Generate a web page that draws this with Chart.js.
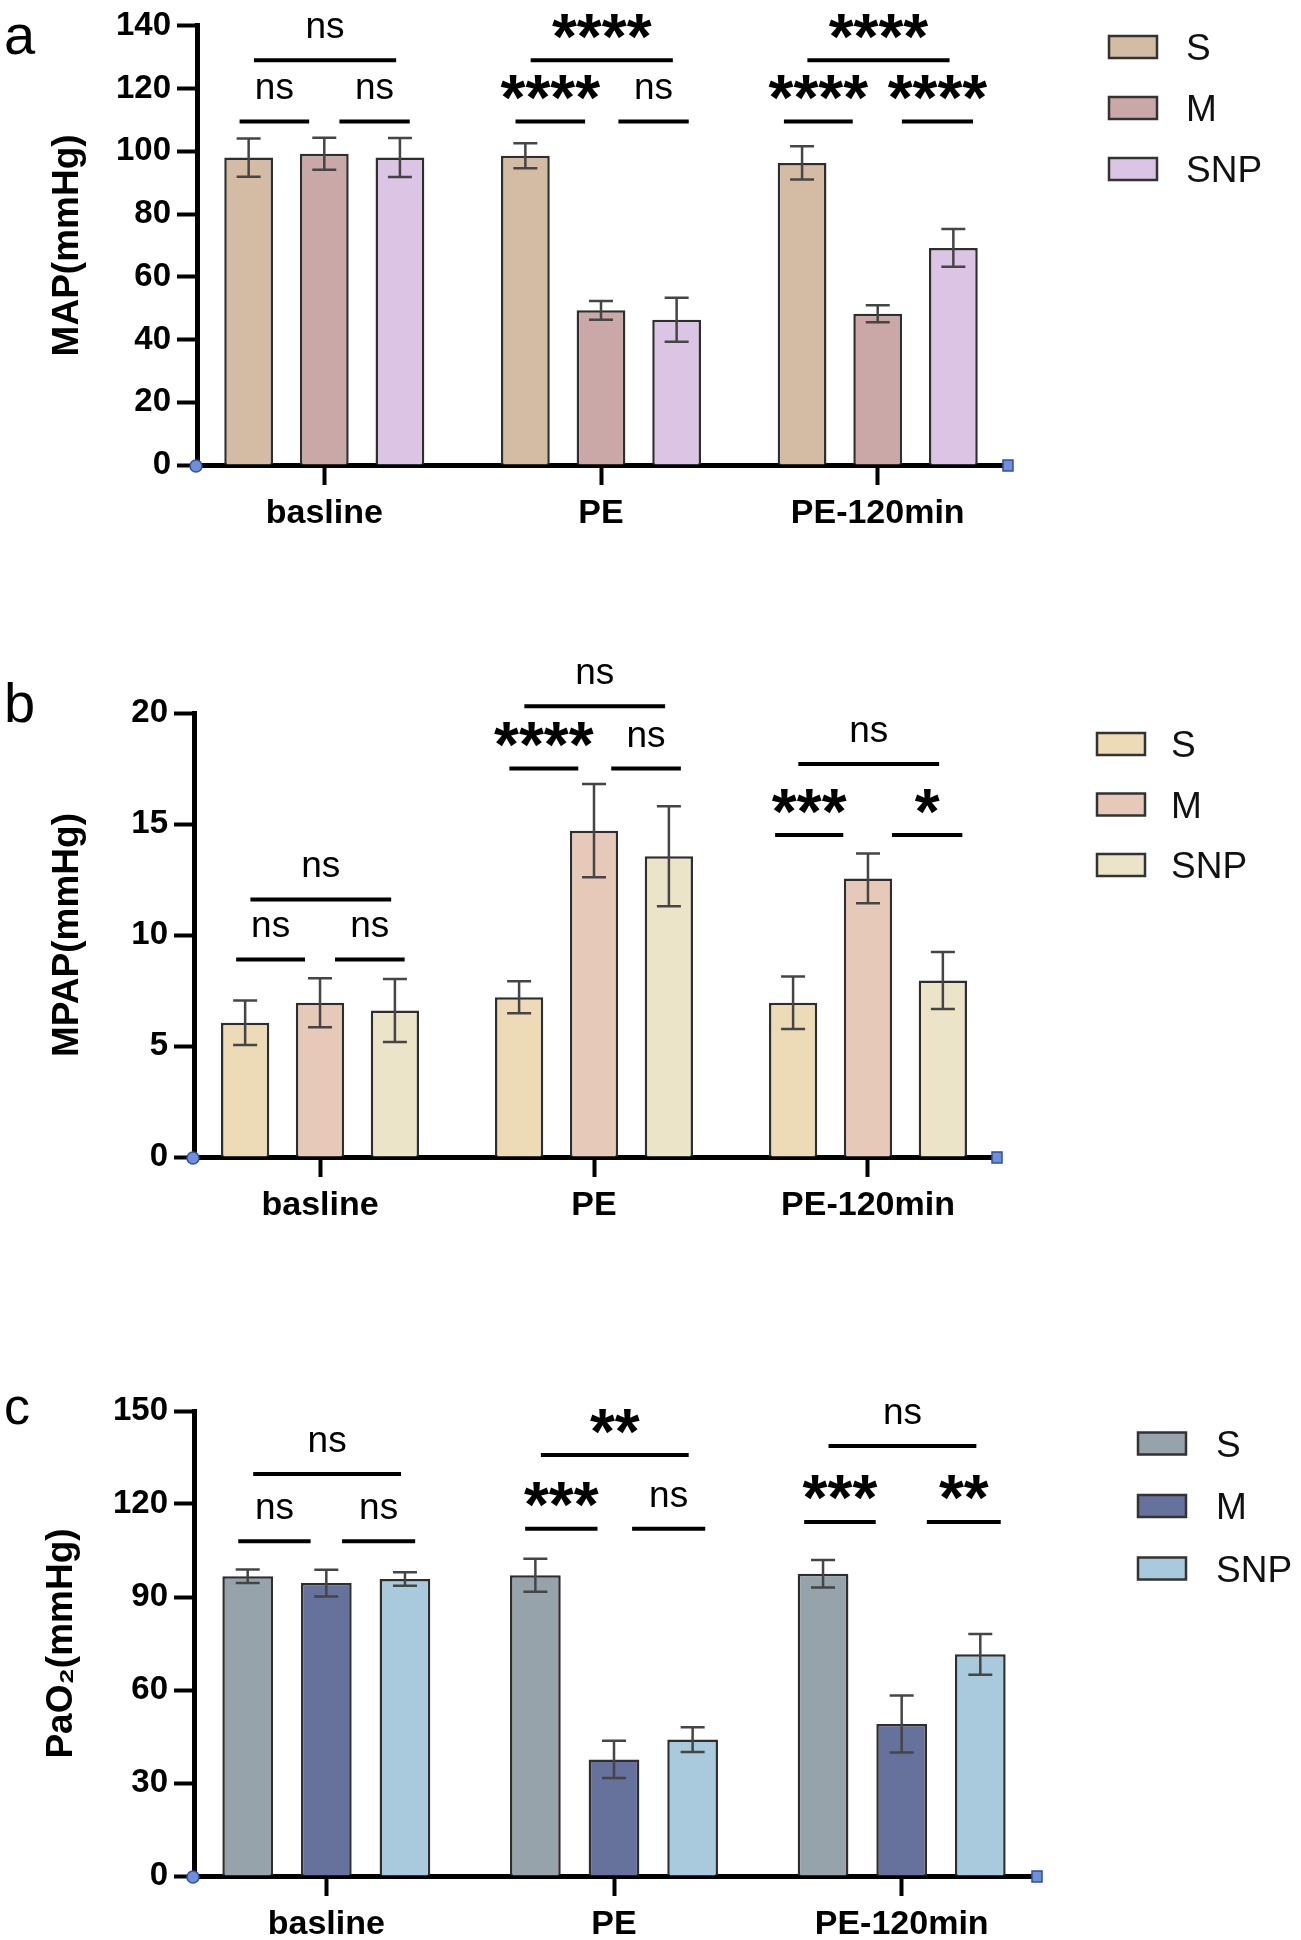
<!DOCTYPE html>
<html>
<head>
<meta charset="utf-8">
<script src="https://cdn.jsdelivr.net/npm/chart.js@4.4.0/dist/chart.umd.min.js"></script>
<style>
  html, body { margin: 0; padding: 0; background: #fff; }
  body { position: relative; width: 1301px; height: 1940px; overflow: hidden; }
  canvas { position: absolute; left: 0; }
</style>
</head>
<body>
<canvas id="chartA" width="1301" height="620" style="top:0px"></canvas>
<canvas id="chartB" width="1301" height="620" style="top:660px"></canvas>
<canvas id="chartC" width="1301" height="620" style="top:1380px"></canvas>
<script>
const categories = ["basline", "PE", "PE-120min"];
const groups = ["S", "M", "SNP"];

// a: MAP (mmHg), mean and SD per group
const mapS = [98, 98.6, 96.3];
const mapM = [99.2, 49.3, 48.2];
const mapSNP = [98, 46.3, 69.2];
const mapSdS = [6.1, 4, 5.3];
const mapSdM = [5.1, 3, 2.7];
const mapSdSNP = [6.2, 7, 6];
const mapTicks = [0, 20, 40, 60, 80, 100, 120, 140];

// b: MPAP (mmHg)
const mpapS = [6.05, 7.2, 6.95];
const mpapM = [6.95, 14.7, 12.55];
const mpapSNP = [6.6, 13.55, 7.95];
const mpapSdS = [1.0, 0.72, 1.18];
const mpapSdM = [1.1, 2.1, 1.12];
const mpapSdSNP = [1.42, 2.25, 1.28];
const mpapTicks = [0, 5, 10, 15, 20];

// c: PaO2 (mmHg)
const paoS = [96.7, 97, 97.5];
const paoM = [94.5, 37.6, 49];
const paoSNP = [95.8, 44, 71.5];
const paoSdS = [2.2, 5.3, 4.4];
const paoSdM = [4.3, 6, 9.2];
const paoSdSNP = [2.2, 4, 6.6];
const paoTicks = [0, 30, 60, 90, 120, 150];

// significance: [category, group a, group b, label]
const mapSig = [[0,0,1,"ns"],[0,1,2,"ns"],[0,0,2,"ns"],[1,0,1,"****"],[1,1,2,"ns"],[1,0,2,"****"],[2,0,1,"****"],[2,1,2,"****"],[2,0,2,"****"]];
const mpapSig = [[0,0,1,"ns"],[0,1,2,"ns"],[0,0,2,"ns"],[1,0,1,"****"],[1,1,2,"ns"],[1,0,2,"ns"],[2,0,1,"***"],[2,1,2,"*"],[2,0,2,"ns"]];
const paoSig = [[0,0,1,"ns"],[0,1,2,"ns"],[0,0,2,"ns"],[1,0,1,"***"],[1,1,2,"ns"],[1,0,2,"**"],[2,0,1,"***"],[2,1,2,"**"],[2,0,2,"ns"]];

// bracket heights in axis units: [pair level, overall level] per category
const mapLevels = [[109.5, 129], [109.5, 129], [109.5, 129]];
const mpapLevels = [[8.9, 11.6], [17.5, 20.3], [14.5, 17.7]];
const paoLevels = [[108, 129.7], [112, 135.8], [114.2, 138.7]];

const FONT = '"Liberation Sans", Arial, Helvetica, sans-serif';
Chart.defaults.font.family = FONT;
Chart.defaults.color = "#000";

// bracket ends, in bar spacings from the middle bar of each category
const PAIR_OFFSETS = [[-1.12, -0.2, 0.2, 1.13], [-1.13, -0.21, 0.23, 1.16], [-1.24, -0.33, 0.32, 1.26]];
const TOP_OFFSETS = [-0.93, 0.95];

const errorBars = {
    id: "errorBars",
    afterDatasetsDraw(chart) {
        const ctx = chart.ctx, y = chart.scales.y;
        ctx.save();
        ctx.strokeStyle = "#454545";
        ctx.lineWidth = 2.5;
        chart.data.datasets.forEach((ds, i) => {
            chart.getDatasetMeta(i).data.forEach((bar, j) => {
                const v = ds.data[j].y;
                const top = y.getPixelForValue(v + ds.sd[j]);
                const bot = y.getPixelForValue(v - ds.sd[j]);
                ctx.beginPath();
                ctx.moveTo(bar.x, top); ctx.lineTo(bar.x, bot);
                ctx.moveTo(bar.x - 12, top); ctx.lineTo(bar.x + 12, top);
                ctx.moveTo(bar.x - 12, bot); ctx.lineTo(bar.x + 12, bot);
                ctx.stroke();
            });
        });
        ctx.restore();
    }
};

const brackets = {
    id: "brackets",
    afterDatasetsDraw(chart, args, opts) {
        const ctx = chart.ctx, y = chart.scales.y;
        const cx = (g, c) => chart.getDatasetMeta(g).data[c].x;
        ctx.save();
        ctx.strokeStyle = "#000";
        ctx.fillStyle = "#000";
        ctx.lineWidth = 4;
        ctx.textAlign = "center";
        ctx.textBaseline = "alphabetic";
        opts.comparisons.forEach(([c, a, b, label]) => {
            const mid = cx(1, c);
            const sp = mid - cx(0, c);
            const o = PAIR_OFFSETS[c];
            let x1, x2, lvl;
            if (b - a === 2) {
                x1 = mid + TOP_OFFSETS[0] * sp; x2 = mid + TOP_OFFSETS[1] * sp; lvl = opts.levels[c][1];
            } else if (a === 0) {
                x1 = mid + o[0] * sp; x2 = mid + o[1] * sp; lvl = opts.levels[c][0];
            } else {
                x1 = mid + o[2] * sp; x2 = mid + o[3] * sp; lvl = opts.levels[c][0];
            }
            const ly = y.getPixelForValue(lvl);
            ctx.beginPath();
            ctx.moveTo(x1, ly); ctx.lineTo(x2, ly);
            ctx.stroke();
            const stars = label !== "ns";
            ctx.font = stars ? "bold 64px " + FONT : "37px " + FONT;
            const m = ctx.measureText(label);
            const ty = ly - (stars ? 34 : 32);
            ctx.fillText(label, (x1 + x2) / 2, ty + (m.actualBoundingBoxAscent - m.actualBoundingBoxDescent) / 2);
        });
        ctx.restore();
    }
};

const decorations = {
    id: "decorations",
    afterDraw(chart, args, opts) {
        const ctx = chart.ctx, area = chart.chartArea;
        ctx.save();
        // legend
        ctx.lineWidth = 2.5;
        ctx.strokeStyle = "#333";
        ctx.font = "37px " + FONT;
        chart.data.datasets.forEach((ds, i) => {
            const cy = opts.legendY + i * opts.legendStep;
            ctx.fillStyle = ds.backgroundColor;
            ctx.fillRect(opts.legendX, cy - 11, 48, 22);
            ctx.strokeRect(opts.legendX, cy - 11, 48, 22);
            ctx.fillStyle = "#111";
            const m = ctx.measureText(ds.label);
            ctx.fillText(ds.label, opts.legendX + opts.textGap, cy + (m.actualBoundingBoxAscent - m.actualBoundingBoxDescent) / 2);
        });
        // panel letter
        ctx.fillStyle = "#000";
        ctx.font = opts.letterSize + "px " + FONT;
        ctx.fillText(opts.letter, 4, opts.letterY);
        // axis end markers
        ctx.fillStyle = "#6f8fd8";
        ctx.strokeStyle = "#2f4f9f";
        ctx.lineWidth = 1.5;
        ctx.beginPath();
        ctx.arc(area.left - 1, area.bottom + 1, 6, 0, Math.PI * 2);
        ctx.fill(); ctx.stroke();
        ctx.fillRect(area.right - 2, area.bottom - 5, 10, 11);
        ctx.strokeRect(area.right - 2, area.bottom - 5, 10, 11);
        ctx.restore();
    }
};

function makePanel(id, p) {
    const ctx = document.getElementById(id).getContext("2d");
    const series = [p.s, p.m, p.snp];
    const sds = [p.sdS, p.sdM, p.sdSNP];
    new Chart(ctx, {
        type: "bar",
        data: {
            datasets: groups.map((g, i) => ({
                label: g,
                data: series[i].map((v, j) => ({ x: j, y: v })),
                sd: sds[i],
                backgroundColor: p.colors[i],
                borderColor: "#2e2e2e",
                borderWidth: 2.5,
                barPercentage: 0.645,
                categoryPercentage: 0.82
            }))
        },
        options: {
            responsive: false,
            animation: false,
            devicePixelRatio: 1,
            layout: { padding: { top: p.top, right: 1301 - p.right, bottom: 0, left: 0 } },
            plugins: {
                legend: { display: false },
                tooltip: { enabled: false },
                brackets: { comparisons: p.sig, levels: p.levels },
                decorations: p.deco
            },
            scales: {
                x: {
                    type: "linear",
                    offset: false,
                    min: -0.46,
                    max: 2.46,
                    afterBuildTicks: (s) => { s.ticks = categories.map((c, i) => ({ value: i })); },
                    grid: { offset: false, drawOnChartArea: false, drawTicks: true, tickLength: 20, tickWidth: 4, tickColor: "#000" },
                    border: { display: true, width: 5, color: "#000" },
                    ticks: {
                        font: { size: 34, weight: "bold" }, color: "#000", padding: 8, maxRotation: 0,
                        callback: (v) => categories[Math.round(v)]
                    },
                    afterFit: (s) => { s.height = 620 - p.bottom; }
                },
                y: {
                    min: p.ticks[0],
                    max: p.ticks[p.ticks.length - 1],
                    afterBuildTicks: (s) => { s.ticks = p.ticks.map(v => ({ value: v })); },
                    grid: { drawOnChartArea: false, drawTicks: true, tickLength: 20, tickWidth: 4, tickColor: "#000" },
                    border: { display: true, width: 5, color: "#000" },
                    ticks: { font: { size: 33, weight: "bold" }, color: "#000", padding: 6 },
                    title: { display: true, text: p.title, color: "#000", font: { size: 37, weight: "bold", lineHeight: 1.2 }, padding: { top: p.titlePad, bottom: 0 } },
                    afterFit: (s) => { s.width = p.left; }
                }
            }
        },
        plugins: [errorBars, brackets, decorations]
    });
}

makePanel("chartA", {
    s: mapS, m: mapM, snp: mapSNP, sdS: mapSdS, sdM: mapSdM, sdSNP: mapSdSNP,
    ticks: mapTicks, sig: mapSig, levels: mapLevels, title: "MAP(mmHg)",
    colors: ["#d4bca4", "#caa8a7", "#dcc4e4"],
    top: 22, bottom: 465, left: 197, right: 1005, titlePad: 46,
    deco: { legendX: 1109, legendY: 47, legendStep: 61, textGap: 77, letter: "a", letterSize: 56, letterY: 54 }
});

makePanel("chartB", {
    s: mpapS, m: mpapM, snp: mpapSNP, sdS: mpapSdS, sdM: mpapSdM, sdSNP: mpapSdSNP,
    ticks: mpapTicks, sig: mpapSig, levels: mpapLevels, title: "MPAP(mmHg)",
    colors: ["#ecdbb6", "#e6c9b8", "#ece4c9"],
    top: 53, bottom: 497, left: 194, right: 994, titlePad: 46,
    deco: { legendX: 1097, legendY: 84, legendStep: 60.5, textGap: 74, letter: "b", letterSize: 56, letterY: 62 }
});

makePanel("chartC", {
    s: paoS, m: paoM, snp: paoSNP, sdS: paoSdS, sdM: paoSdM, sdSNP: paoSdSNP,
    ticks: paoTicks, sig: paoSig, levels: paoLevels, title: "PaO₂(mmHg)",
    colors: ["#97a3ab", "#66719c", "#a9c9dc"],
    top: 31, bottom: 496, left: 194, right: 1034, titlePad: 40,
    deco: { legendX: 1138, legendY: 63.5, legendStep: 62.5, textGap: 78, letter: "c", letterSize: 52, letterY: 44 }
});
</script>
</body>
</html>
